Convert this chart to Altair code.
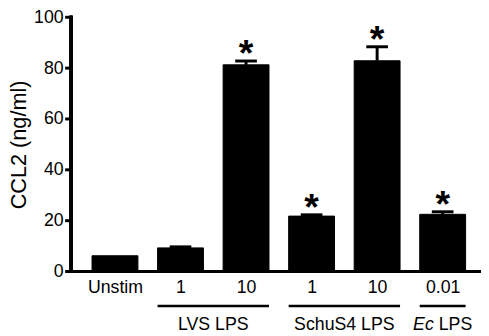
import altair as alt
import pandas as pd

# ---- data ----
categories = ["Unstim", "LVS 1", "LVS 10", "SchuS4 1", "SchuS4 10", "Ec 0.01"]
tick_labels = ["Unstim", "1", "10", "1", "10", "0.01"]
means = [6.2, 9.3, 81.3, 21.8, 82.9, 22.5]
errors = [0.0, 0.4, 1.5, 0.5, 5.5, 1.0]
significant = [False, False, True, True, True, True]
y_ticks = [0, 20, 40, 60, 80, 100]

group_names = ["LVS LPS", "SchuS4 LPS"]
group_start = [1, 3]
group_end = [2, 4]
ec_index = 5
ec_italic = "Ec"
ec_rest = "LPS"

FONT = "Liberation Sans"
W, H = 416, 258
HALF = 0.35
X_DOMAIN = [-0.67, 5.585]
Y_DOMAIN = [0, 100]

df = pd.DataFrame({
    "idx": list(range(len(categories))),
    "cat": categories,
    "mean": means,
    "err": errors,
    "sig": significant,
})
df["upper"] = df["mean"] + df["err"]

groups = pd.DataFrame({
    "name": group_names + [""],
    "start": group_start + [ec_index],
    "end": group_end + [ec_index],
})
groups["center"] = (groups["start"] + groups["end"]) / 2

ec_df = pd.DataFrame({"idx": [ec_index], "a": [ec_italic], "b": [ec_rest]})
tick_df = pd.DataFrame({"v": y_ticks})

label_expr = "[" + ",".join("'" + t + "'" for t in tick_labels) + "][datum.value]"

xscale = alt.Scale(domain=X_DOMAIN, nice=False, zero=False)
yscale = alt.Scale(domain=Y_DOMAIN, nice=False)

xaxis = alt.Axis(values=list(range(len(categories))), labelExpr=label_expr,
                 title=None, ticks=False, grid=False, domain=False, labelPadding=7)
yaxis = alt.Axis(values=y_ticks, title="CCL2 (ng/ml)",
                 grid=False, domain=False, ticks=False,
                 labelPadding=8, titlePadding=3)


def xq(field):
    return alt.X(field, type="quantitative", scale=xscale, axis=xaxis)


def yq(field):
    return alt.Y(field, type="quantitative", scale=yscale, axis=yaxis)


base = alt.Chart(df)

bars = base.transform_calculate(
    lo=f"datum.idx - {HALF}", hi=f"datum.idx + {HALF}"
).mark_bar(color="black", stroke="black", strokeWidth=1, opacity=1).encode(
    x=xq("lo"), x2="hi:Q", y=yq("mean"), y2=alt.datum(0),
)

# axis lines and y ticks
yline = alt.Chart(tick_df).mark_rule(color="black", strokeWidth=3, strokeCap="square").encode(
    x=alt.value(0), y=alt.value(0), y2=alt.value(H)
)
xline = alt.Chart(tick_df).mark_rule(color="black", strokeWidth=3).encode(
    x=alt.value(0), x2=alt.value(W), y=alt.value(H)
)
yticks = alt.Chart(tick_df).mark_rule(color="black", strokeWidth=3).encode(
    x=alt.value(-6), x2=alt.value(0), y=yq("v")
)

err_df = base.transform_filter("datum.err > 0")

stems = err_df.mark_rule(color="black", strokeWidth=3, opacity=1).encode(
    x=xq("idx"), y=yq("mean"), y2="upper:Q"
)
caps = err_df.mark_tick(color="black", orient="horizontal", size=22, thickness=3,
                        opacity=1).encode(x=xq("idx"), y=yq("upper"))

stars = base.transform_filter("datum.sig").mark_text(
    text="*", font=FONT, fontSize=38, fontWeight="bold", color="black",
    baseline="alphabetic", dy=5
).encode(x=xq("idx"), y=yq("upper"))

gbase = alt.Chart(groups)
glines = gbase.transform_calculate(
    gs=f"datum.start - {HALF}", ge=f"datum.end + {HALF}"
).mark_rule(color="black", strokeWidth=2.5).encode(
    x=xq("gs"), x2="ge:Q", y=alt.value(H + 35)
)
glabels = gbase.transform_filter("datum.name != ''").mark_text(
    font=FONT, fontSize=18, color="black", baseline="alphabetic"
).encode(x=xq("center"), y=alt.value(H + 59), text="name:N")

ebase = alt.Chart(ec_df)
ec_a = ebase.mark_text(font=FONT, fontSize=18, fontStyle="italic", color="black",
                       baseline="alphabetic", align="right", dx=-9).encode(
    x=xq("idx"), y=alt.value(H + 59), text="a:N")
ec_b = ebase.mark_text(font=FONT, fontSize=18, color="black",
                       baseline="alphabetic", align="left", dx=-4).encode(
    x=xq("idx"), y=alt.value(H + 59), text="b:N")

chart = alt.layer(bars, stems, caps, stars, yline, xline, yticks, glines, glabels,
                  ec_a, ec_b).properties(
    width=W, height=H,
    autosize=alt.AutoSizeParams(type="none"),
    padding={"left": 64, "top": 7, "right": 0, "bottom": 62},
).configure_view(stroke=None).configure_axis(
    labelFont=FONT, labelFontSize=18, labelColor="black",
    titleFont=FONT, titleFontSize=22, titleFontWeight="normal", titleColor="black",
)

chart.save("out.html", embed_options={"renderer": "svg", "actions": False})
